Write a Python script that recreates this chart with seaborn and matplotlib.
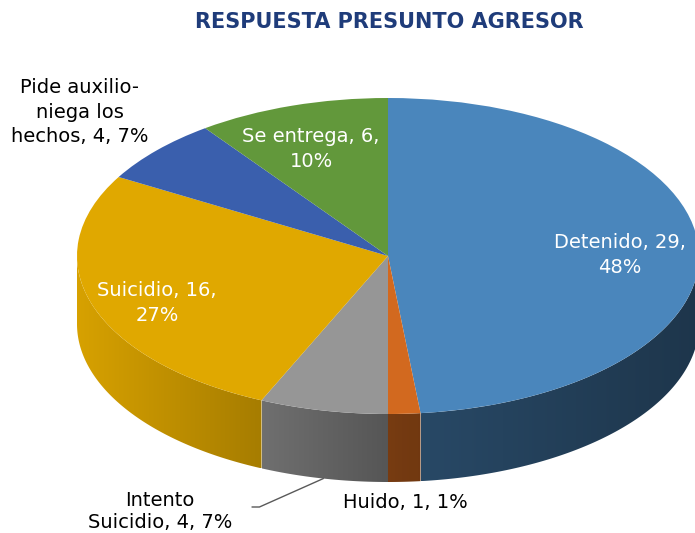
import numpy as np
import matplotlib
matplotlib.use("Agg")
import matplotlib.pyplot as plt
from matplotlib.patches import Polygon
from matplotlib.colors import to_rgb
import seaborn as sns

# datos
categorias = ["Detenido", "Huido", "Intento Suicidio", "Suicidio",
              "Pide auxilio-niega los hechos", "Se entrega"]
valores = [29, 1, 4, 16, 4, 6]
porcentajes = ["48%", "1%", "7%", "27%", "7%", "10%"]
etiquetas = ["Detenido, 29,\n48%", "Huido, 1, 1%", "Intento\nSuicidio, 4, 7%",
             "Suicidio, 16,\n27%", "Pide auxilio-\nniega los\nhechos, 4, 7%",
             "Se entrega, 6,\n10%"]
colores = ["#4A86BC", "#D2691F", "#969696", "#E0A800", "#3A5FAD", "#62983B"]

sns.set_theme(style="white")
plt.rcParams['font.family'] = ['DejaVu Sans']

W, H = 695, 533
fig = plt.figure(figsize=(W / 100, H / 100), dpi=100)
ax = fig.add_axes([0, 0, 1, 1])

# geometria del pastel 3d (pixeles)
cx, cy, rx, ry, prof = 388, 256, 311, 158, 68
d = prof / ry

fr = np.array(valores) / sum(valores)
bordes = np.concatenate([[0], np.cumsum(fr)]) * 360  # horario desde arriba

# sombreado de la cara lateral segun x
luz_x = [-1.0, -0.4, 0.05, 1.0]
luz_f = [0.96, 0.74, 0.55, 0.40]

for i, col in enumerate(colores):
    a, b = max(bordes[i], 90), min(bordes[i + 1], 270)
    if a >= b:
        continue
    phi = np.radians(np.linspace(a, b, 120))
    xt, yt = np.sin(phi), np.cos(phi)
    poly = np.column_stack([np.r_[xt, xt[::-1]], np.r_[yt, yt[::-1] - d]])
    patch = Polygon(poly, closed=True, facecolor='none', edgecolor='none')
    ax.add_patch(patch)
    gx = np.linspace(xt.min(), xt.max(), 200)
    f = np.interp(gx, luz_x, luz_f)
    img = (np.array(to_rgb(col))[None, :] * f[:, None])[None, :, :]
    im = ax.imshow(img, extent=[gx[0], gx[-1], (yt - d).min(), yt.max()],
                   aspect='auto', zorder=1, interpolation='bilinear')
    im.set_clip_path(patch)

wedges, _ = ax.pie(valores, colors=colores, startangle=90, counterclock=False,
                   radius=1, wedgeprops=dict(linewidth=0))
for w in wedges:
    w.set_zorder(2)

ax.set_aspect('auto')
ax.set_xlim(-cx / rx, (W - cx) / rx)
ax.set_ylim(-(H - cy) / ry, cy / ry)
ax.axis('off')

# titulo
fig.text(389 / W, 1 - 22 / H, "RESPUESTA PRESUNTO AGRESOR", ha='center', va='center',
         fontsize=15, fontweight='bold', color='#1F3C7A')

# etiquetas (x, y, color, interlineado)
pos = [(620, 255, 'white', 1.35), (405, 502, 'black', 1.2),
       (160, 512, 'black', 1.2), (157, 303, 'white', 1.35),
       (80, 112, 'black', 1.35), (311, 149, 'white', 1.35)]
for txt, (x, y, c, ls) in zip(etiquetas, pos):
    fig.text(x / W, 1 - y / H, txt, ha='center', va='center', fontsize=14,
             color=c, linespacing=ls, multialignment='center')

# linea guia de "Intento Suicidio"
mid = np.radians((bordes[2] + bordes[3]) / 2)
ax.annotate("", xy=(np.sin(mid), np.cos(mid) - d), xycoords='data',
            xytext=(252, H - 507), textcoords='figure pixels',
            arrowprops=dict(arrowstyle='-', color='#595959', lw=1,
                            shrinkA=0, shrinkB=0,
                            connectionstyle="angle,angleA=0,angleB=24,rad=0"))

fig.savefig("out.png", dpi=100)
